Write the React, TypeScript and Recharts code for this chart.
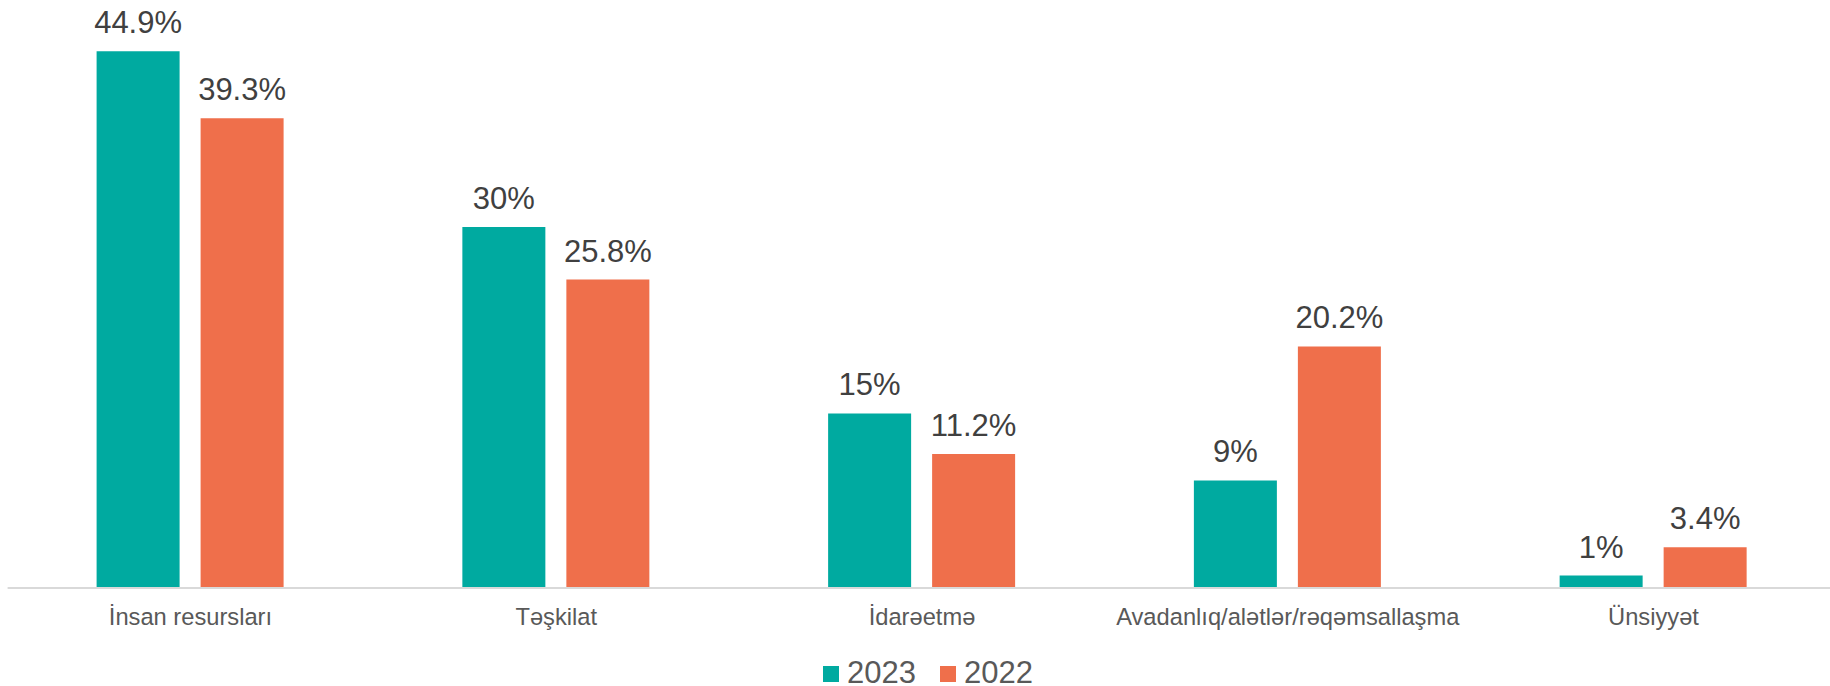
import React from "react";
import { BarChart, Bar, XAxis, YAxis, LabelList, Legend } from "recharts";

const categories = [
  "İnsan resursları",
  "Təşkilat",
  "İdarəetmə",
  "Avadanlıq/alətlər/rəqəmsallaşma",
  "Ünsiyyət",
];
const values2023 = [44.9, 30.2, 14.6, 9.0, 1.04];
const values2022 = [39.3, 25.8, 11.2, 20.2, 3.4];
const labels2023 = ["44.9%", "30%", "15%", "9%", "1%"];
const labels2022 = ["39.3%", "25.8%", "11.2%", "20.2%", "3.4%"];

const seriesNames = ["2023", "2022"];
const colors = ["#00AAA0", "#EF6F4B"];

const data = categories.map((c, i) => ({
  name: c,
  v2023: values2023[i],
  v2022: values2022[i],
  l2023: labels2023[i],
  l2022: labels2022[i],
}));

const FONT = "'Liberation Sans', Arial, sans-serif";

const CatTick = (props: any) => {
  const { x, y, payload } = props;
  return (
    <text
      x={x}
      y={y}
      dy={37}
      textAnchor="middle"
      fill="#595959"
      fontSize={23.7}
      fontFamily={FONT}
    >
      {payload.value}
    </text>
  );
};

const LegendContent = () => (
  <div style={{ display: "flex", alignItems: "flex-start", fontFamily: FONT }}>
    {seriesNames.map((n, i) => (
      <div
        key={n}
        style={{ display: "flex", alignItems: "flex-start", marginRight: i === 0 ? 24 : 0 }}
      >
        <div
          style={{
            width: 16,
            height: 16,
            background: colors[i],
            marginTop: 7,
            marginRight: 8,
          }}
        />
        <span style={{ fontSize: 31, lineHeight: "27px", color: "#595959" }}>{n}</span>
      </div>
    ))}
  </div>
);

export default function App() {
  return (
    <div
      style={{
        position: "absolute",
        left: 0,
        top: 0,
        width: 1830,
        height: 686,
        overflow: "hidden",
        background: "#fff",
      }}
    >
      <BarChart
        width={1840}
        height={686}
        data={data}
        margin={{ top: 50, right: 3.6, left: 7.6, bottom: 58 }}
        barGap={21}
      >
        <XAxis
          dataKey="name"
          height={40}
          tickLine={false}
          tickSize={0}
          tickMargin={0}
          axisLine={{ stroke: "#D9D9D9", strokeWidth: 2 }}
          tick={<CatTick />}
          interval={0}
        />
        <YAxis hide domain={[0, 45]} />
        <Legend
          verticalAlign="middle"
          layout="horizontal"
          content={<LegendContent />}
          wrapperStyle={{ top: 659, left: 823, width: 300, height: 27 }}
        />
        <Bar dataKey="v2023" name="2023" fill={colors[0]} barSize={83} isAnimationActive={false}>
          <LabelList
            dataKey="l2023"
            position="top"
            offset={18}
            fill="#404040"
            fontSize={31}
            fontFamily={FONT}
          />
        </Bar>
        <Bar dataKey="v2022" name="2022" fill={colors[1]} barSize={83} isAnimationActive={false}>
          <LabelList
            dataKey="l2022"
            position="top"
            offset={18}
            fill="#404040"
            fontSize={31}
            fontFamily={FONT}
          />
        </Bar>
      </BarChart>
    </div>
  );
}
